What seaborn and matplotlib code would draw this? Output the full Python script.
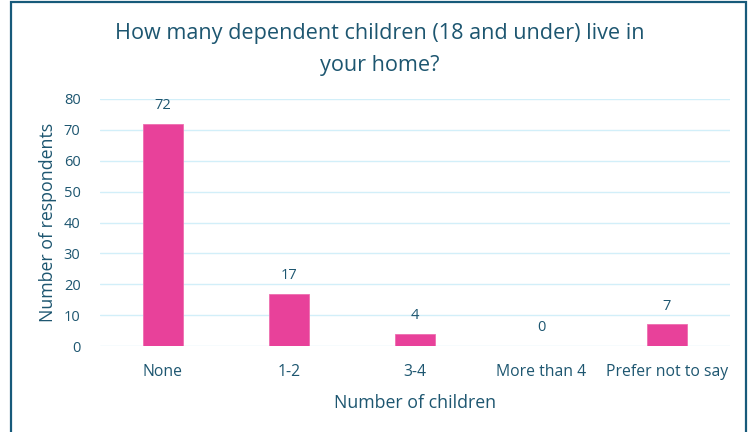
import matplotlib
matplotlib.use("Agg")
import matplotlib.pyplot as plt
import seaborn as sns
import pandas as pd
from matplotlib.patches import Rectangle

categories = ["None", "1-2", "3-4", "More than 4", "Prefer not to say"]
values = [72, 17, 4, 0, 7]
yticks = [0, 10, 20, 30, 40, 50, 60, 70, 80]

sns.set_style("white")
plt.rcParams['font.family'] = ['Open Sans', 'DejaVu Sans']
teal = "#1d5670"

df = pd.DataFrame({"cat": categories, "val": values})
fig = plt.figure(figsize=(7.5, 4.32), dpi=100)
ax = fig.add_axes([100/750, 1 - 346/432, 630/750, (346 - 99)/432])
sns.barplot(data=df, x="cat", y="val", color="#E8419A", width=0.32,
            saturation=1, ax=ax, edgecolor="#EE6FB0", linewidth=0.6, zorder=3)
ax.set_xlim(-0.5, 4.5)
ax.set_ylim(0, 80)
ax.set_yticks(yticks)
ax.yaxis.grid(True, color="#d2eff9", linewidth=1.0, zorder=0)
ax.set_axisbelow(True)
for s in ax.spines.values():
    s.set_visible(False)
ax.tick_params(axis="both", length=0, colors=teal)
ax.tick_params(axis="x", pad=13, labelsize=11.3)
ax.tick_params(axis="y", pad=14, labelsize=10.5)
for i, v in enumerate(values):
    ax.annotate(str(v), xy=(i, v), xytext=(0, 13), textcoords="offset points",
                ha="center", va="center", color=teal, fontsize=10.5)
ax.set_xlabel("Number of children", color=teal, fontsize=12.8, labelpad=10)
ax.set_ylabel("Number of respondents", color=teal, fontsize=12.8, labelpad=5)
fig.text(380/750, 1 - 49.5/432, "How many dependent children (18 and under) live in\nyour home?",
         ha="center", va="center", color=teal, fontsize=15.6, linespacing=1.65)
fig.add_artist(Rectangle((11/750, -0.1), (746 - 11)/750, 1.1 - 2.5/432,
                         transform=fig.transFigure, fill=False,
                         edgecolor="#175a7a", linewidth=1.6))
fig.savefig("out.png", dpi=100)
